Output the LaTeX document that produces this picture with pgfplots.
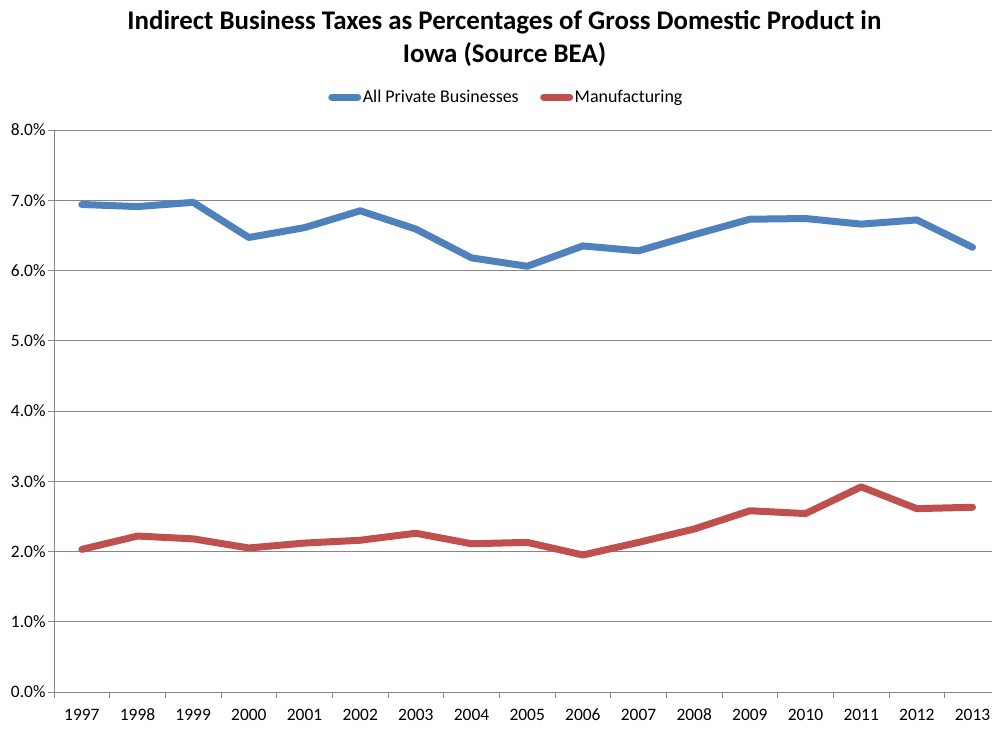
\documentclass[border=0pt]{standalone}
\usepackage{fontspec}
\setmainfont{Carlito}
\usepackage{pgfplots}
\pgfplotsset{compat=1.18}
\definecolor{xlblue}{HTML}{4F81BD}
\definecolor{xlred}{HTML}{C0504D}
\definecolor{xlgrid}{HTML}{868686}
\begin{document}
\begin{tikzpicture}
\path[use as bounding box] (-54bp,-40bp) rectangle (938bp,692bp);
\begin{axis}[
  at={(0,0)}, anchor=south west,
  scale only axis, width=938bp, height=562bp,
  xmin=-0.5, xmax=16.35, ymin=0, ymax=8,
  axis lines*=left,
  axis line style={draw=xlgrid, line width=1bp},
  ymajorgrids, grid style={draw=xlgrid, line width=1bp},
  ytick={0,1,...,8},
  yticklabel={\pgfmathprintnumber[fixed,fixed zerofill,precision=1]{\tick}\%},
  xtick={-0.5,0.5,1.5,2.5,3.5,4.5,5.5,6.5,7.5,8.5,9.5,10.5,11.5,12.5,13.5,14.5,15.5},
  xticklabels={},
  extra x ticks={0,1,...,16},
  extra x tick labels={1997,1998,1999,2000,2001,2002,2003,2004,2005,2006,2007,2008,2009,2010,2011,2012,2013},
  extra x tick style={major tick length=0pt},
  tick align=outside, major tick length=6bp,
  tick style={draw=xlgrid, line width=1bp},
  /pgf/number format/assume math mode=true,
  ticklabel style={font=\fontsize{17.5}{20}\selectfont},
  xticklabel style={text height=12bp, text depth=0bp, anchor=north, yshift=-13bp},
  yticklabel style={xshift=1bp},
  clip=false,
  legend columns=2,
  legend style={at={(0.482,1.0587)}, anchor=center, draw=none, fill=none,
    font=\fontsize{18}{20}\selectfont, column sep=20bp,
    nodes={inner sep=1.5bp},
    /tikz/every odd column/.append style={column sep=0bp}},
  legend image code/.code={\draw[#1, line cap=round] (0bp,0bp) -- (26bp,0bp);},
  every axis plot/.append style={line width=7bp, line join=round, line cap=round},
]
\addplot[color=xlblue] coordinates {
(0,6.94) (1,6.91) (2,6.97) (3,6.47) (4,6.61) (5,6.85) (6,6.59) (7,6.18) (8,6.06)
(9,6.35) (10,6.28) (11,6.51) (12,6.73) (13,6.74) (14,6.66) (15,6.72) (16,6.33)};
\addlegendentry{All Private Businesses}
\addplot[color=xlred] coordinates {
(0,2.03) (1,2.22) (2,2.18) (3,2.05) (4,2.12) (5,2.16) (6,2.26) (7,2.11) (8,2.13)
(9,1.95) (10,2.13) (11,2.32) (12,2.58) (13,2.54) (14,2.92) (15,2.61) (16,2.63)};
\addlegendentry{Manufacturing}
\end{axis}
\node[font=\fontsize{27}{33}\selectfont\bfseries, align=center] at (450.5bp,653bp)
  {Indirect Business Taxes as Percentages of Gross Domestic Product in\\Iowa (Source BEA)};
\end{tikzpicture}
\end{document}
